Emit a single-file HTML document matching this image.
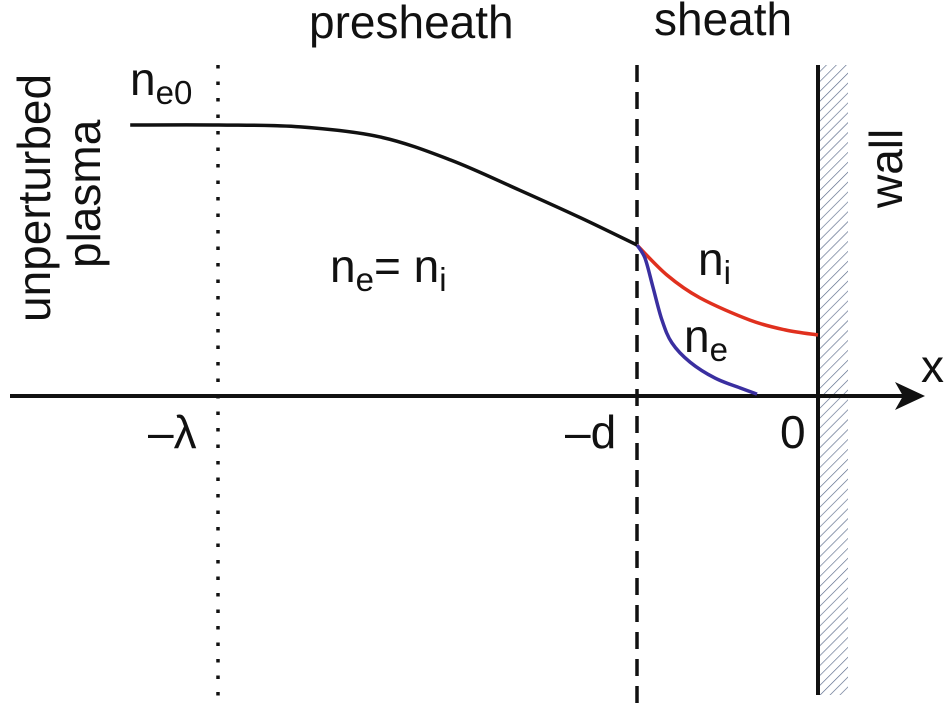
<!DOCTYPE html>
<html><head><meta charset="utf-8"><style>
html,body{margin:0;padding:0;background:#fff}
svg{display:block;font-family:"Liberation Sans",Arial,sans-serif}
</style></head><body>
<svg id="chart" width="951" height="705" viewBox="0 0 951 705">
<defs>
<pattern id="hatch" width="7" height="7" patternUnits="userSpaceOnUse" patternTransform="rotate(45)">
<line x1="0" y1="0" x2="0" y2="7" stroke="#5a6a8a" stroke-width="1.3"/>
</pattern>
</defs>
<rect x="820" y="65" width="28" height="630" fill="url(#hatch)"/>
<line x1="818" y1="65" x2="818" y2="695" stroke="#111" stroke-width="4"/>
<line x1="218" y1="65" x2="218" y2="705" stroke="#111" stroke-width="3.5" stroke-dasharray="3.5,13"/>
<line x1="637" y1="65" x2="637" y2="705" stroke="#111" stroke-width="3.5" stroke-dasharray="17,10"/>
<line x1="10" y1="396" x2="905" y2="396" stroke="#111" stroke-width="4"/>
<polygon points="925,396 895,382 903,396 895,410" fill="#111"/>
<g id="curves"></g>
<text x="309" y="38" font-size="46" fill="#111">presheath</text>
<text x="654" y="35" font-size="46" fill="#111">sheath</text>
<text transform="translate(902,208) rotate(-90)" font-size="46" fill="#111">wall</text>
<text transform="translate(50,322) rotate(-90)" font-size="46" fill="#111">unperturbed</text>
<text transform="translate(100,268) rotate(-90)" font-size="46" fill="#111">plasma</text>
<text x="130" y="95" font-size="46" fill="#111">n<tspan font-size="33" dy="9">e0</tspan></text>
<text x="330" y="282" font-size="46" fill="#111">n<tspan font-size="33" dy="9">e</tspan><tspan dy="-9">= n</tspan><tspan font-size="33" dy="9">i</tspan></text>
<text x="698" y="275" font-size="46" fill="#111">n<tspan font-size="33" dy="9">i</tspan></text>
<text x="684" y="352" font-size="46" fill="#111">n<tspan font-size="33" dy="9">e</tspan></text>
<text x="921" y="382" font-size="46" fill="#111">x</text>
<text x="148" y="448" font-size="46" fill="#111">–λ</text>
<text x="565" y="448" font-size="46" fill="#111">–d</text>
<text x="780" y="448" font-size="46" fill="#111">0</text>
</svg>
<script>
const plasmaX = [-3.80,-3.31,-2.86,-2.42,-2.03,-1.65,-1.31,-1.0];
const plasmaN = [1.0,1.0,0.993,0.956,0.871,0.760,0.657,0.557];
const ionX = [-1,-0.834,-0.652,-0.376,-0.182,0];
const ionN = [0.557,0.446,0.362,0.280,0.244,0.225];
const elecX = [-1,-0.956,-0.912,-0.862,-0.807,-0.707,-0.569,-0.431,-0.337];
const elecN = [0.557,0.509,0.402,0.280,0.196,0.125,0.066,0.030,0.007];
function sx(v){return 818+v*181;}
function sy(v){return 396-v*271;}
function path(xs,ns){
  const p=xs.map((x,i)=>[sx(x),sy(ns[i])]);
  let d='M'+p[0][0]+','+p[0][1];
  for(let i=0;i<p.length-1;i++){
    const p0=p[Math.max(i-1,0)],p1=p[i],p2=p[i+1],p3=p[Math.min(i+2,p.length-1)];
    const c1=[p1[0]+(p2[0]-p0[0])/6,p1[1]+(p2[1]-p0[1])/6];
    const c2=[p2[0]-(p3[0]-p1[0])/6,p2[1]-(p3[1]-p1[1])/6];
    d+=' C'+c1[0]+','+c1[1]+' '+c2[0]+','+c2[1]+' '+p2[0]+','+p2[1];
  }
  return d;
}
const g=document.getElementById('curves');
const ns='http://www.w3.org/2000/svg';
function add(xs,n,color,name){
  const el=document.createElementNS(ns,'path');
  el.setAttribute('d',path(xs,n));
  el.setAttribute('fill','none');
  el.setAttribute('stroke',color);
  el.setAttribute('stroke-width','3.5');
  el.setAttribute('stroke-linecap','butt');
  
  
  g.appendChild(el);
}
add(ionX,ionN,'#e0301e','ion-density-curve');
add(elecX,elecN,'#3a2fa0','electron-density-curve');
add(plasmaX,plasmaN,'#111','plasma-density-curve');
</script>
</body></html>
